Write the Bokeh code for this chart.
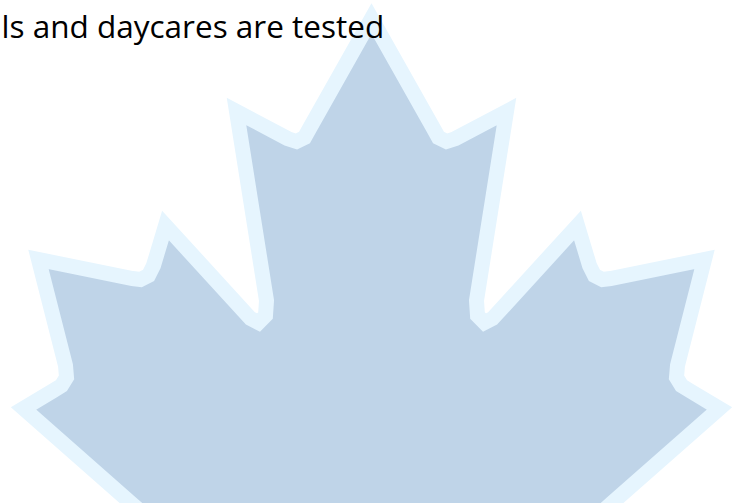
from bokeh.plotting import figure
from bokeh.models import Range1d
from bokeh.core.properties import value
from bokeh.embed import file_html
from bokeh.resources import INLINE

# Maple leaf outline (page pixel coordinates, y downward)
leaf_x = [371, 433, 438, 446, 455, 506, 476, 477, 484, 492, 577, 589, 594, 602, 610,
          704, 677, 676, 681, 689, 719, 611, 560,
          182, 131, 23, 53, 61, 66, 65, 38, 132, 140, 148, 153, 165,
          250, 258, 265, 266, 236, 287, 296, 304, 309]
leaf_y = [18, 128, 137, 141, 138, 111, 300, 315, 322, 318, 225, 265, 275, 279, 278,
          259, 365, 377, 385, 390, 408, 503, 548,
          548, 503, 408, 390, 385, 377, 365, 259, 278, 279, 275, 265, 225,
          318, 322, 315, 300, 111, 138, 141, 137, 128]

caption = ["ls and daycares are tested"]
caption_x = [1]
caption_y = [25]

p = figure(width=735, height=503, output_backend="svg", toolbar_location=None,
           x_range=Range1d(0, 735), y_range=Range1d(503, 0), min_border=0)
p.axis.visible = False
p.grid.visible = False
p.outline_line_color = None
p.background_fill_color = "white"
p.border_fill_color = "white"

p.patch(leaf_x, leaf_y, fill_color="#BFD4E8", line_color="#E6F5FE",
        line_width=15, line_join="miter")

p.text(x=caption_x, y=caption_y, text=caption, text_font=value("Open Sans"),
       text_font_size="31.5px", text_color="black", text_baseline="alphabetic",
       text_align="left")

open("out.html", "w").write(file_html(p, INLINE))
